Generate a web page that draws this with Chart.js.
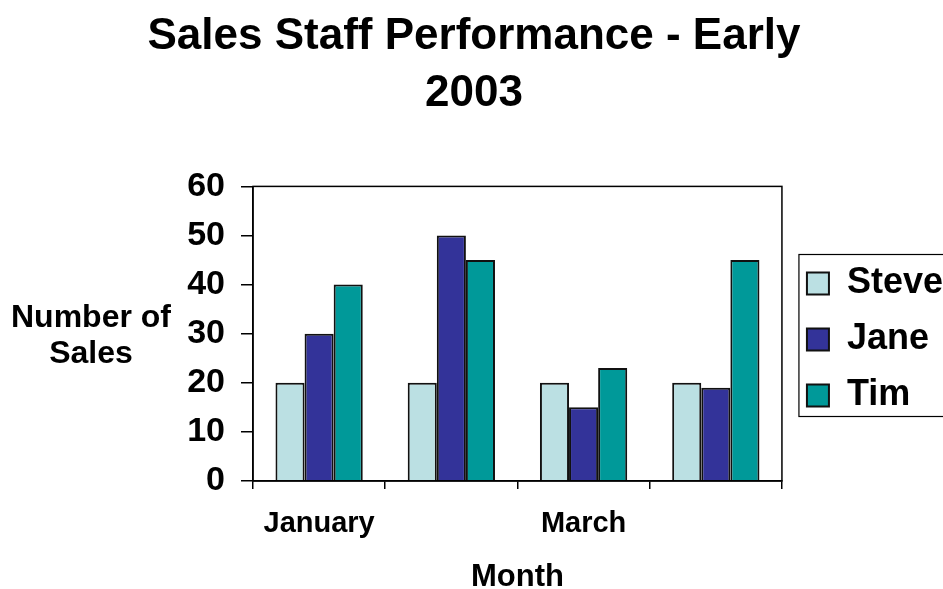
<!DOCTYPE html>
<html>
<head>
<meta charset="utf-8">
<title>Sales Staff Performance</title>
<script src="https://cdn.jsdelivr.net/npm/chart.js@4.4.1/dist/chart.umd.min.js"></script>
<style>
    html, body { margin: 0; padding: 0; background: #fff; overflow: hidden; }
    #wrap { width: 943px; height: 589px; position: relative; }
</style>
</head>
<body>
<div id="wrap"><canvas id="chart"></canvas></div>
<script>
// data
const months = ['January', 'February', 'March', 'April'];
const steve = [20, 20, 20, 20];
const jane = [30, 50, 15, 19];
const tim = [40, 45, 23, 45];
const titleLines = ['Sales Staff Performance - Early', '2003'];
const yTitleLines = ['Number of', 'Sales'];
const xTitle = 'Month';

const FONT = "'Liberation Sans', Arial, sans-serif";

// frame round the plot area + horizontal y title + box round the legend
const frames = {
    id: 'frames',
    afterLayout(chart) {
        // legend spans full canvas height on the right, nudge it to line up with the old excel one
        const lg = chart.legend;
        lg.left += 5; lg.right += 5;
        lg.top += 45; lg.bottom += 45;
    },
    afterDraw(chart) {
        const {ctx, chartArea: a} = chart;
        ctx.save();
        ctx.strokeStyle = '#000';
        ctx.lineWidth = 1.5;
        ctx.strokeRect(a.left, a.top, a.right - a.left, a.bottom - a.top);

        const boxes = chart.legend.legendHitBoxes;
        if (boxes && boxes.length) {
            const first = boxes[0], last = boxes[boxes.length - 1];
            const top = first.top + first.height / 2 - 29;
            const bottom = last.top + last.height / 2 + 21;
            ctx.lineWidth = 1.2;
            ctx.strokeRect(first.left - 8, top, 300, bottom - top);
        }

        ctx.fillStyle = '#000';
        ctx.font = 'bold 32px ' + FONT;
        ctx.textAlign = 'center';
        ctx.textBaseline = 'alphabetic';
        yTitleLines.forEach((t, i) => ctx.fillText(t, 91, 327 + i * 36));
        ctx.restore();
    }
};

const ctx = document.getElementById('chart').getContext('2d');
new Chart(ctx, {
    type: 'bar',
    data: {
        labels: months,
        datasets: [
            {label: 'Steve', data: steve, backgroundColor: '#BBE0E3'},
            {label: 'Jane', data: jane, backgroundColor: '#333399'},
            {label: 'Tim', data: tim, backgroundColor: '#009999'}
        ]
    },
    options: {
        responsive: true,
        maintainAspectRatio: false,
        animation: false,
        layout: {padding: {left: 0, right: -5, top: 0, bottom: 0}},
        datasets: {
            bar: {
                borderColor: '#111',
                borderWidth: 2,
                categoryPercentage: 0.66,
                barPercentage: 1.0
            }
        },
        plugins: {
            title: {
                display: true,
                text: titleLines,
                color: '#000',
                font: {family: FONT, size: 44, weight: 'bold', lineHeight: 1.3},
                padding: {top: 8, bottom: 64}
            },
            legend: {
                display: true,
                position: 'right',
                labels: {
                    color: '#000',
                    font: {family: FONT, size: 36, weight: 'bold'},
                    boxWidth: 22,
                    boxHeight: 22,
                    padding: 20
                }
            },
            tooltip: {enabled: false}
        },
        scales: {
            x: {
                afterFit(scale) { scale.height = 108; },
                grid: {
                    display: true,
                    offset: true,
                    drawOnChartArea: false,
                    drawTicks: true,
                    tickLength: 8,
                    color: '#000',
                    lineWidth: 1.5
                },
                border: {display: true, color: '#000', width: 1.5},
                ticks: {
                    color: '#000',
                    font: {family: FONT, size: 29, weight: 'bold'},
                    padding: 18,
                    autoSkip: false,
                    maxRotation: 0,
                    // excel only labelled every other month
                    callback(value, index) {
                        return index % 2 === 0 ? this.getLabelForValue(value) : '';
                    }
                },
                title: {
                    display: true,
                    text: xTitle,
                    color: '#000',
                    font: {family: FONT, size: 31, weight: 'bold', lineHeight: 1},
                    padding: {top: 0, bottom: -4}
                }
            },
            y: {
                min: 0,
                max: 60,
                afterFit(scale) { scale.width = 253; },
                grid: {
                    display: true,
                    drawOnChartArea: false,
                    drawTicks: true,
                    tickLength: 12,
                    color: '#000',
                    lineWidth: 1.5
                },
                border: {display: true, color: '#000', width: 1.5},
                ticks: {
                    stepSize: 10,
                    color: '#000',
                    font: {family: FONT, size: 34, weight: 'bold'},
                    padding: 16
                }
            }
        }
    },
    plugins: [frames]
});
</script>
</body>
</html>
